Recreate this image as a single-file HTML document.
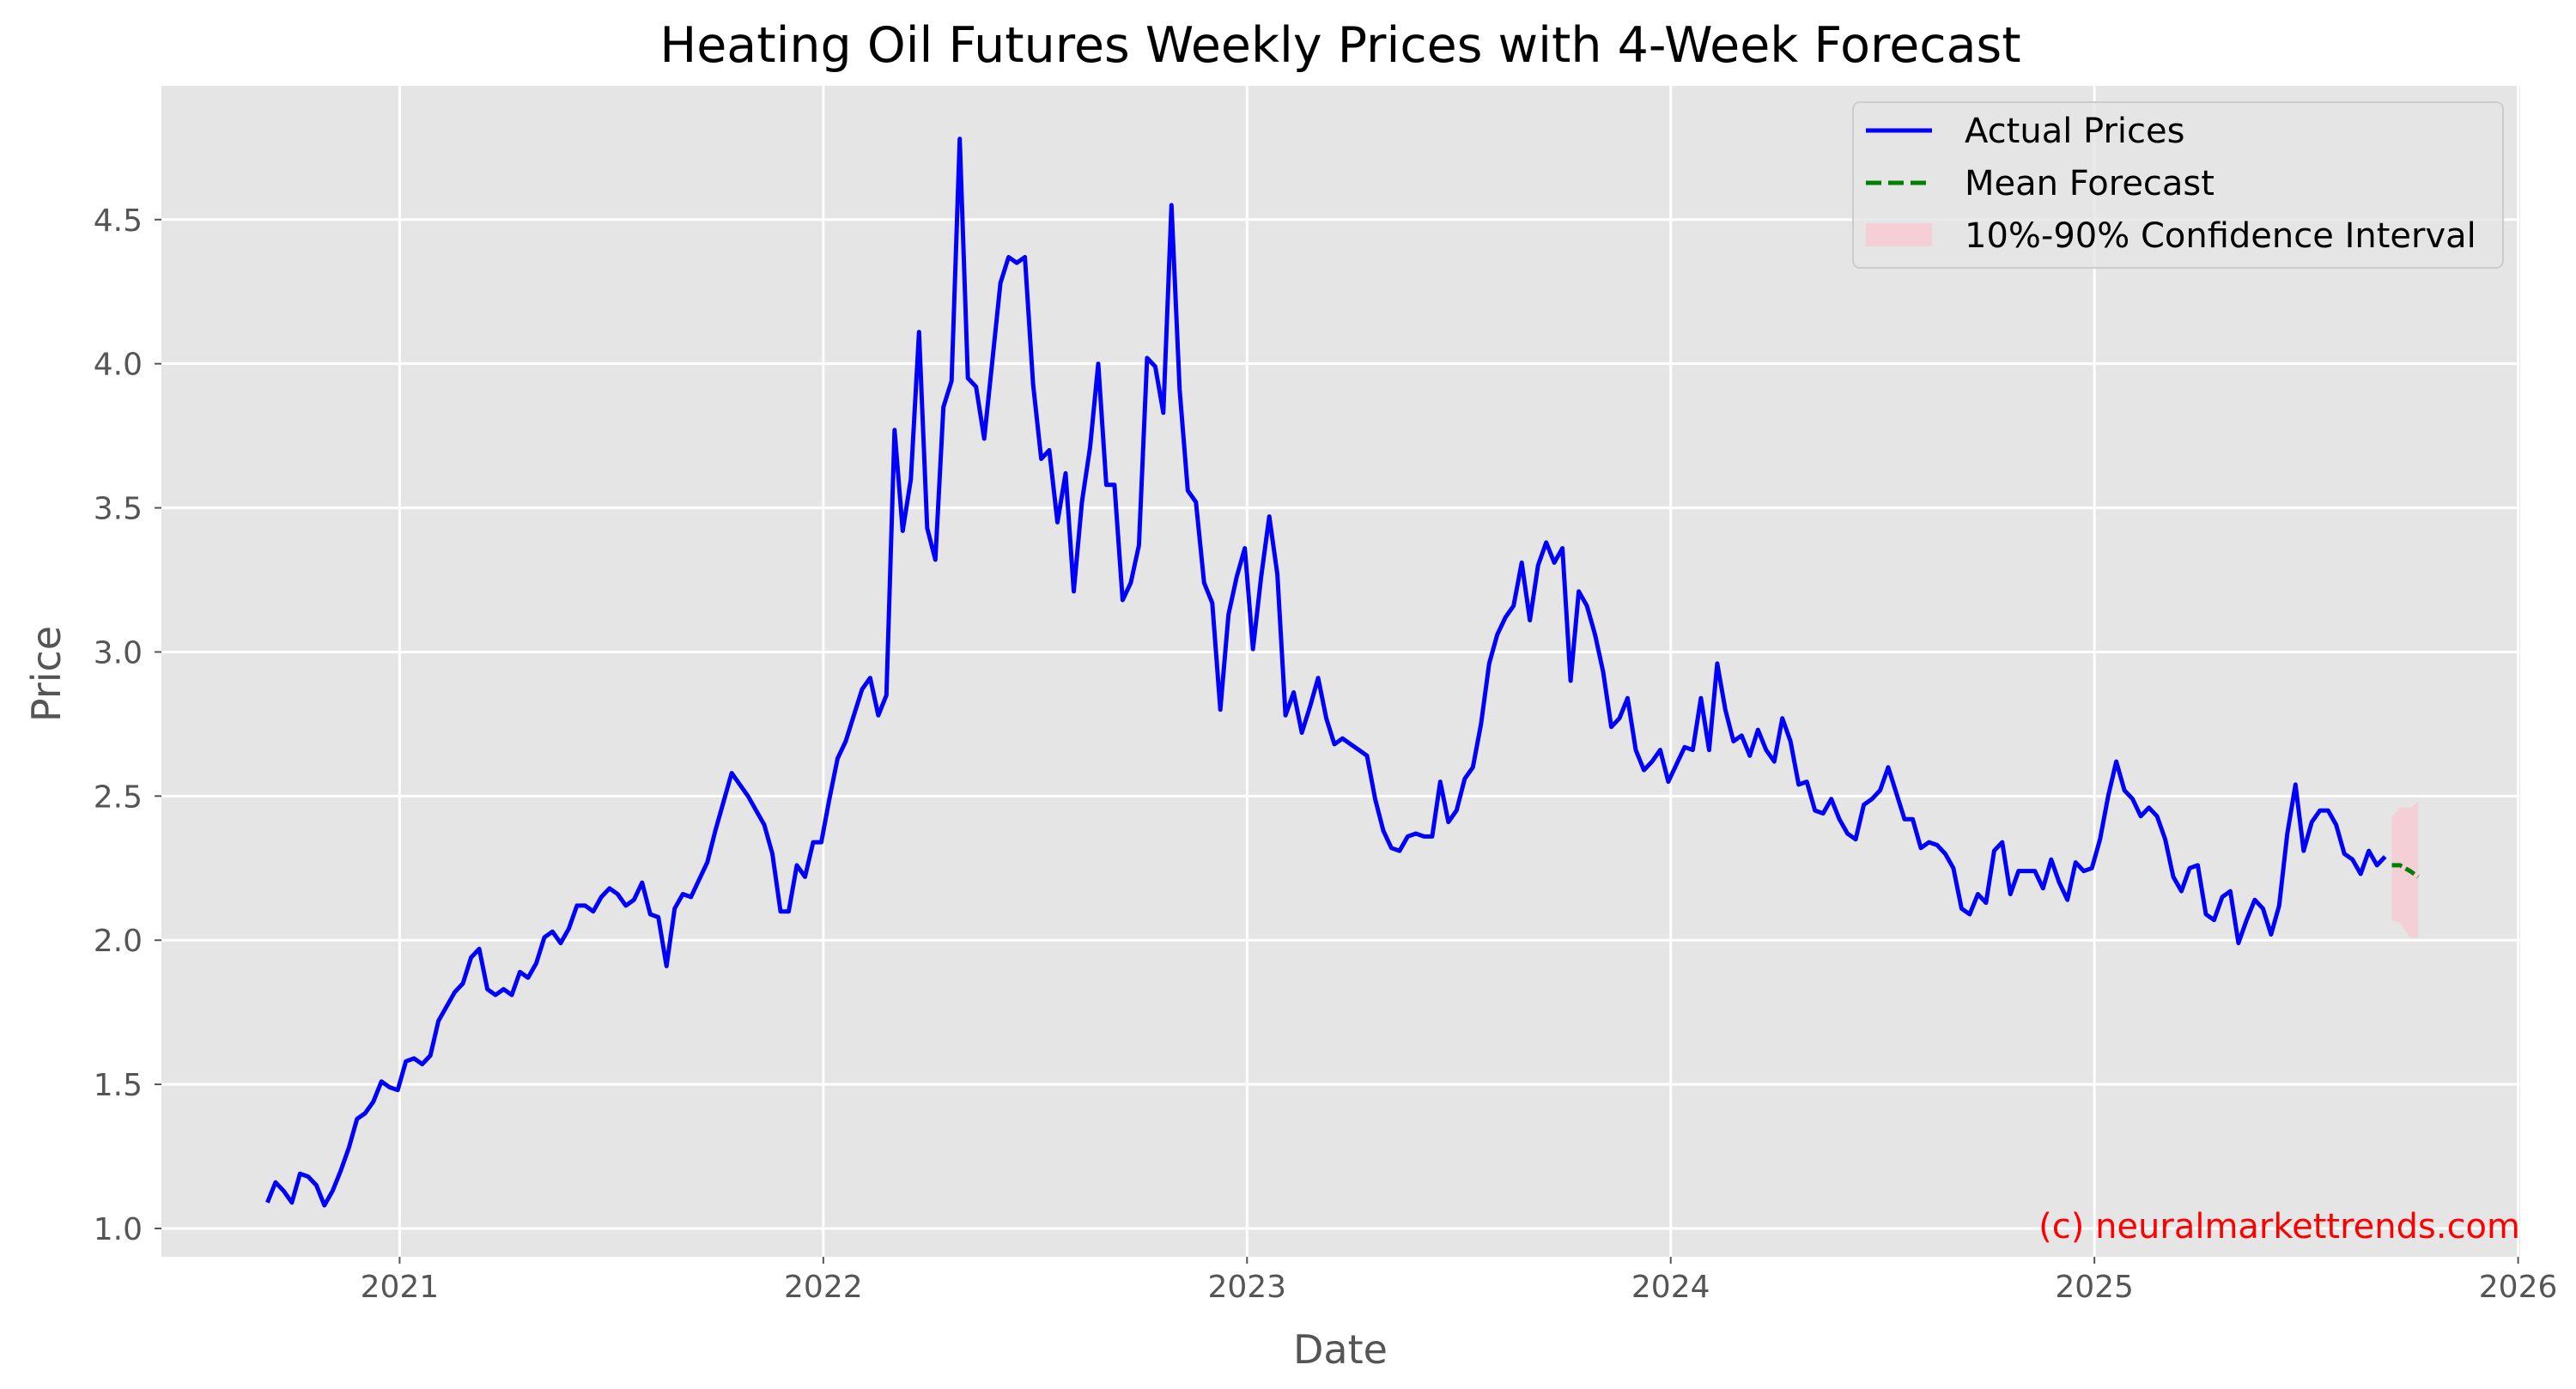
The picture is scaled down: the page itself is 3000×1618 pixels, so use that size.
<!DOCTYPE html>
<html><head><meta charset="utf-8"><style>
html,body{margin:0;padding:0;background:#fff;}
svg{display:block;font-family:"DejaVu Sans","Liberation Sans",sans-serif;}
</style></head><body>
<svg id="chart" width="3000" height="1618" viewBox="0 0 3000 1618">
<rect x="188" y="100" width="2747" height="1364" fill="#e5e5e5"/>
<g id="grid"></g>
<g id="ticks"></g>
<g id="series"></g>
<text x="1561" y="72" font-size="57" text-anchor="middle" fill="#000">Heating Oil Futures Weekly Prices with 4-Week Forecast</text>
<text x="1561" y="1588" font-size="46" text-anchor="middle" fill="#555">Date</text>
<text x="70" y="785" font-size="46" text-anchor="middle" fill="#555" transform="rotate(-90 70 785)">Price</text>
<text x="2935" y="1442" font-size="40" text-anchor="end" fill="#ff0000">(c) neuralmarkettrends.com</text>
<g>
<rect x="2158" y="119" width="757" height="193" rx="8" fill="#e5e5e5" fill-opacity="0.8" stroke="#cccccc" stroke-width="2"/>
<line x1="2173" y1="152" x2="2250" y2="152" stroke="#0000ff" stroke-width="5"/>
<text x="2288" y="166" font-size="40" fill="#000">Actual Prices</text>
<line x1="2173" y1="213" x2="2250" y2="213" stroke="#008000" stroke-width="5" stroke-dasharray="18,8"/>
<text x="2288" y="227" font-size="40" fill="#000">Mean Forecast</text>
<rect x="2173" y="260" width="77" height="27" fill="#ffc0cb" fill-opacity="0.6"/>
<text x="2288" y="288" font-size="40" fill="#000">10%-90% Confidence Interval</text>
</g>
</svg>
<script>
const xTickYears=[2021,2022,2023,2024,2025,2026];
const yTickValues=[1.0,1.5,2.0,2.5,3.0,3.5,4.0,4.5];
const yTickLabels=["1.0","1.5","2.0","2.5","3.0","3.5","4.0","4.5"];
const actualStartYear=2020.688;
const actualEndYear=2025.686;
const actualPrices=[1.09,1.16,1.13,1.09,1.19,1.18,1.15,1.08,1.13,1.20,1.28,1.38,1.40,1.44,1.51,1.49,1.48,1.58,1.59,1.57,1.60,1.72,1.77,1.82,1.85,1.94,1.97,1.83,1.81,1.83,1.81,1.89,1.87,1.92,2.01,2.03,1.99,2.04,2.12,2.12,2.10,2.15,2.18,2.16,2.12,2.14,2.20,2.09,2.08,1.91,2.11,2.16,2.15,2.21,2.27,2.38,2.48,2.58,2.54,2.50,2.45,2.40,2.30,2.10,2.10,2.26,2.22,2.34,2.34,2.49,2.63,2.69,2.78,2.87,2.91,2.78,2.85,3.77,3.42,3.60,4.11,3.43,3.32,3.85,3.94,4.78,3.95,3.92,3.74,4.01,4.28,4.37,4.35,4.37,3.93,3.67,3.70,3.45,3.62,3.21,3.52,3.71,4.00,3.58,3.58,3.18,3.24,3.37,4.02,3.99,3.83,4.55,3.91,3.56,3.52,3.24,3.17,2.80,3.13,3.26,3.36,3.01,3.26,3.47,3.27,2.78,2.86,2.72,2.81,2.91,2.77,2.68,2.70,2.68,2.66,2.64,2.49,2.38,2.32,2.31,2.36,2.37,2.36,2.36,2.55,2.41,2.45,2.56,2.60,2.75,2.96,3.06,3.12,3.16,3.31,3.11,3.30,3.38,3.31,3.36,2.90,3.21,3.16,3.06,2.93,2.74,2.77,2.84,2.66,2.59,2.62,2.66,2.55,2.61,2.67,2.66,2.84,2.66,2.96,2.80,2.69,2.71,2.64,2.73,2.66,2.62,2.77,2.69,2.54,2.55,2.45,2.44,2.49,2.42,2.37,2.35,2.47,2.49,2.52,2.60,2.51,2.42,2.42,2.32,2.34,2.33,2.30,2.25,2.11,2.09,2.16,2.13,2.31,2.34,2.16,2.24,2.24,2.24,2.18,2.28,2.20,2.14,2.27,2.24,2.25,2.35,2.50,2.62,2.52,2.49,2.43,2.46,2.43,2.35,2.22,2.17,2.25,2.26,2.09,2.07,2.15,2.17,1.99,2.07,2.14,2.11,2.02,2.12,2.37,2.54,2.31,2.41,2.45,2.45,2.40,2.30,2.28,2.23,2.31,2.26,2.29];
const forecastYears=[2025.702,2025.721,2025.745,2025.764];
const forecastMean=[2.26,2.26,2.24,2.22];
const forecastLow=[2.07,2.06,2.01,2.01];
const forecastHigh=[2.43,2.46,2.46,2.48];

const PL=188,PR=2935,PT=100,PB=1464;
function xScale(yr){return 465.4+(yr-2021)*(2932.6-465.4)/5;}
function yScale(v){return 1431-(v-1)*(1431-255.8)/3.5;}
const NS="http://www.w3.org/2000/svg";
function mk(tag,attrs,parent){const e=document.createElementNS(NS,tag);for(const k in attrs)e.setAttribute(k,attrs[k]);parent.appendChild(e);return e;}
const gridG=document.getElementById('grid'),ticksG=document.getElementById('ticks'),seriesG=document.getElementById('series');
xTickYears.forEach(function(yr){
  const x=xScale(yr);
  const g=mk('line',{x1:x,y1:PT,x2:x,y2:PB,stroke:'#fff','stroke-width':3},gridG);
  
  
  const tm=mk('line',{x1:x,y1:PB,x2:x,y2:PB+8,stroke:'#555','stroke-width':2},ticksG);
  
  
  const t=mk('text',{x:x,y:PB+47,'font-size':36,'text-anchor':'middle',fill:'#555'},ticksG);
  t.textContent=String(yr);
  
  
});
yTickValues.forEach(function(v,i){
  const y=yScale(v);
  const g=mk('line',{x1:PL,y1:y,x2:PR,y2:y,stroke:'#fff','stroke-width':3},gridG);
  
  
  const tm=mk('line',{x1:PL-8,y1:y,x2:PL,y2:y,stroke:'#555','stroke-width':2},ticksG);
  
  
  const t=mk('text',{x:PL-22,y:y+13,'font-size':36,'text-anchor':'end',fill:'#555'},ticksG);
  t.textContent=yTickLabels[i];
  
  
});
const bandTop=forecastYears.map(function(yr,i){return xScale(yr)+','+yScale(forecastHigh[i]);});
const bandBot=forecastYears.map(function(yr,i){return xScale(yr)+','+yScale(forecastLow[i]);}).reverse();
const band=mk('polygon',{points:bandTop.concat(bandBot).join(' '),fill:'#ffc0cb','fill-opacity':0.6},seriesG);


const nPts=actualPrices.length,stepYr=(actualEndYear-actualStartYear)/(nPts-1);
const pts=actualPrices.map(function(v,i){return xScale(actualStartYear+i*stepYr).toFixed(1)+','+yScale(v).toFixed(1);});
const line=mk('polyline',{points:pts.join(' '),fill:'none',stroke:'#0000ff','stroke-width':5,'stroke-linejoin':'round'},seriesG);


const fpts=forecastYears.map(function(yr,i){return xScale(yr)+','+yScale(forecastMean[i]);});
const fl=mk('polyline',{points:fpts.join(' '),fill:'none',stroke:'#008000','stroke-width':5,'stroke-dasharray':'12,5'},seriesG);


</script>
</body></html>
